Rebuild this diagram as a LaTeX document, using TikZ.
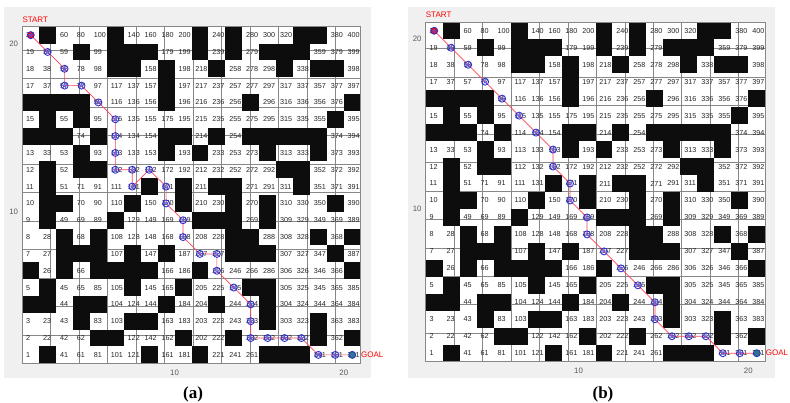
\documentclass[tikz,border=0pt]{standalone}
\usepackage{fontspec}
\newfontfamily\plotfont{Liberation Sans}
\newfontfamily\capfont{Liberation Serif}
\usepackage{tikz}
\usetikzlibrary{shapes.geometric}

\definecolor{figbg}{RGB}{240,240,240}
\definecolor{gridgray}{RGB}{135,135,135}
\definecolor{pathred}{RGB}{250,70,90}
\definecolor{markblue}{RGB}{45,45,215}
\definecolor{goalgreen}{RGB}{20,140,60}

\tikzset{
  cellnum/.style={anchor=west, inner sep=0pt, text=black!85,
    font=\plotfont\fontsize{7.2}{7.2}\selectfont},
  ticklab/.style={inner sep=0pt, text=black!65,
    font=\plotfont\fontsize{7.8}{7.8}\selectfont},
  redlab/.style={inner sep=0pt, text=red,
    font=\plotfont\fontsize{8}{8}\selectfont},
  caplab/.style={anchor=base, inner sep=0pt,
    font=\capfont\bfseries\fontsize{17}{17}\selectfont},
  gridline/.style={gridgray, line width=0.6pt},
  obstacle/.style={fill=black!95},
  pathline/.style={pathred, line width=0.7pt},
  visited/.style={circle, draw=markblue, line width=0.85pt,
    minimum size=7pt, inner sep=0pt,
    path picture={\draw[markblue!80, line width=0.3pt,
      shift={(path picture bounding box.center)}]
      (90:2.4pt) -- (234:2.4pt) -- (18:2.4pt) -- (162:2.4pt) -- (306:2.4pt) -- cycle;}},
  startmark/.style={visited, fill=red},
  goalmark/.style={visited, fill=goalgreen},
}

% obstacle cells, number = (column-1)*20 + row
\def\blocked{40,120,220,260,340,360,%
  79,119,139,159,219,259,299,319,339,%
  118,138,178,238,318,358,378,%
  177,%
  16,36,56,76,176,276,396,%
  35,75,375,%
  14,34,54,94,174,194,234,274,294,314,334,354,%
  73,173,213,293,353,%
  32,72,92,312,332,%
  31,151,191,231,251,331,%
  30,50,130,190,250,290,370,%
  29,109,209,229,249,289,%
  48,88,248,268,348,388,%
  47,67,87,127,167,247,267,287,367,%
  6,46,86,106,126,146,206,386,%
  25,125,185,265,285,%
  4,24,64,84,164,224,284,%
  63,123,143,283,343,%
  82,102,182,242,342,382,%
  21,141,201,281,301,321}
\foreach \k in \blocked {\expandafter\xdef\csname blk\k\endcsname{1}}

% one 20x20 maze, cells of unit size, #1 = prefix of the names
\newcommand\drawmaze[1]{%
  \fill[white] (0,0) rectangle (20,20);
  \draw[gridline] (0,0) grid (20,20);
  \foreach \c in {1,...,20} {
    \foreach \r in {1,...,20} {
      \pgfmathtruncatemacro\cellno{(\c-1)*20+\r}
      \coordinate (#1-\cellno) at (\c-0.5,\r-0.5);
      \ifcsname blk\cellno\endcsname
        \fill[obstacle] (\c-1,\r-1) rectangle (\c,\r);
      \else
        \node[cellnum] (#1n\cellno) at (\c-0.78,\r-0.5) {\cellno};
      \fi
    }
  }
  \draw[gridline] (0,0) rectangle (20,20);
  % axis labels
  \node[ticklab, anchor=east] (#1y20) at (-0.24,19) {20};
  \node[ticklab, anchor=east] (#1y10) at (-0.24,9) {10};
  \node[ticklab] (#1x10) at (9,-0.56) {10};
  \node[ticklab] (#1x20) at (19,-0.56) {20};
  \node[redlab, anchor=base west, yshift=4.4pt] (#1start) at (0,20) {START};
  \node[redlab, anchor=west, xshift=0.3pt] (#1goal) at (20,0.5) {GOAL};
}

\begin{document}
\begin{tikzpicture}[x=1pt, y=1pt]
  \useasboundingbox (0,0) rectangle (790,402);
  \fill[figbg] (4,24) rectangle (371,395);
  \fill[figbg] (408,24) rectangle (775,395);

  % (a)
  \begin{scope}[shift={(22.3,38.7)}, x=16.92pt, y=16.83pt]
    \drawmaze{a}
    \draw[pathline] (a-20) \foreach \k in {39,58,57,77,96,115,114,113,112,132,131,
      152,171,170,189,188,207,227,226,245,264,263,262,282,302,322,341,361,381} { -- (a-\k) };
    \foreach \k in {39,58,57,77,96,115,114,113,112,132,131,152,171,170,189,188,
      207,227,226,245,264,263,262,282,302,322,341,361}
      \node[visited] (am\k) at (a-\k) {};
    \node[startmark] (am20) at (a-20) {};
    \node[goalmark] (am381) at (a-381) {};
  \end{scope}

  % (b)
  \begin{scope}[shift={(425.7,40.3)}, x=16.98pt, y=16.97pt]
    \drawmaze{b}
    \draw[pathline] (b-20) \foreach \k in {39,58,77,96,115,134,153,152,171,170,
      189,188,207,226,245,264,263,282,302,322,341,361,381} { -- (b-\k) };
    \foreach \k in {39,58,77,96,115,134,153,152,171,170,189,188,207,226,245,
      264,263,282,302,322,341,361}
      \node[visited] (bm\k) at (b-\k) {};
    \node[startmark] (bm20) at (b-20) {};
    \node[goalmark] (bm381) at (b-381) {};
  \end{scope}

  \node[caplab] (capa) at (193,4) {(a)};
  \node[caplab] (capb) at (603,4) {(b)};
\end{tikzpicture}
\end{document}
